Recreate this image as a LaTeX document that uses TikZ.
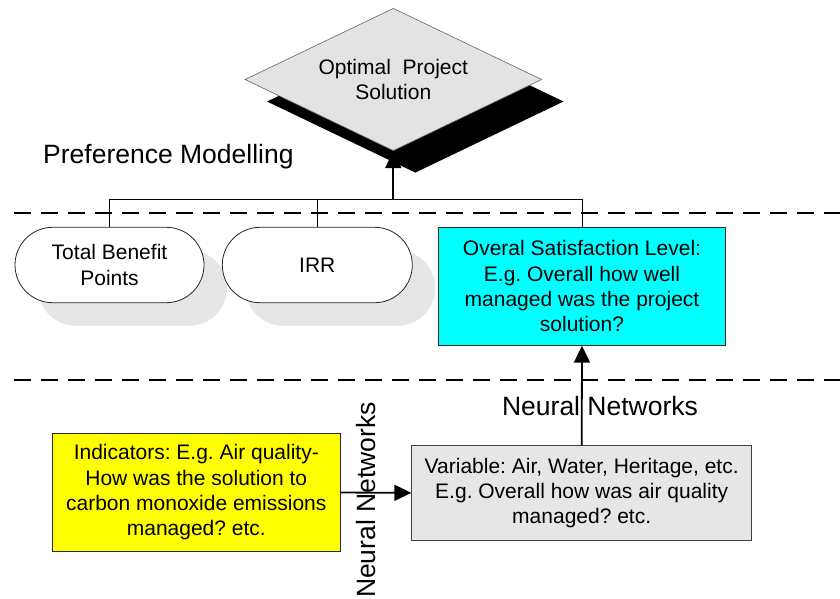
\documentclass[tikz,border=0pt]{standalone}
\usepackage{fontspec}
\setmainfont{Liberation Sans}
\frenchspacing
\usetikzlibrary{shapes.geometric,shapes.misc,shadows,arrows.meta}
\definecolor{lgray}{HTML}{E3E3E3}
\definecolor{sgray}{HTML}{E6E6E6}
\definecolor{vgray}{HTML}{E6E6E6}
\definecolor{cyanbox}{HTML}{00FFFF}
\definecolor{yellowbox}{HTML}{FFFF00}
\tikzset{
  txt/.style={font=\fontsize{21}{25.3}\selectfont, align=center, inner sep=0pt},
  bigtxt/.style={font=\fontsize{26.5}{30}\selectfont, inner sep=0pt},
  pill/.style={txt, rounded rectangle, draw=black!85, line width=0.8pt, fill=white,
    minimum height=75.4pt,
    drop shadow={shadow xshift=23pt, shadow yshift=-23pt, fill=sgray, opacity=1}},
  box/.style={txt, rectangle, draw=black!85, line width=0.8pt},
  arrowline/.style={line width=1.8pt, -{Triangle[length=17pt 0 0,width=16pt 0 0]}},
  thinline/.style={line width=0.9pt},
  sep/.style={line width=1.8pt, dash pattern=on 17pt off 10pt},
}
\begin{document}
\begin{tikzpicture}[x=1pt,y=-1pt]
\useasboundingbox[fill=white] (0,0) rectangle (840,598);

% separators
\draw[sep] (14,212.7) -- (840,212.7);
\draw[sep] (14,380) -- (840,380);

% nodes
\node[pill, minimum width=189pt] (tbp) at (109.5,265) {Total Benefit\\Points};
\node[pill, minimum width=190pt] (irr) at (317.3,265) {IRR};
\node[box, fill=cyanbox, minimum width=287.4pt, minimum height=118pt] (sat) at (582,286.3)
  {Overal Satisfaction Level:\\E.g. Overall how well\\managed was the project\\solution?};
\node[box, fill=yellowbox, minimum width=287.3pt, minimum height=118.4pt] (ind) at (196.3,492.5)
  {Indicators: E.g. Air quality-\\How was the solution to\\carbon monoxide emissions\\managed? etc.};
\node[box, fill=vgray, draw=black!75, minimum width=340pt, minimum height=94.3pt] (var) at (581.7,492.9)
  {Variable: Air, Water, Heritage, etc.\\E.g. Overall how was air quality\\managed? etc.};

% bus
\coordinate (bus) at (393.3,199.3);
\draw[thinline] (tbp.north) -- (tbp.north |- bus) -- (sat.north |- bus) -- (sat.north);
\draw[thinline] (irr.north) -- (irr.north |- bus);
\draw[arrowline] (bus) -- (393.3,151);

% diamond
\node[txt, diamond, aspect=2.08, draw=black!60, line width=0.6pt, fill=lgray, minimum width=296.7pt, minimum height=142.4pt,
  drop shadow={shadow xshift=22pt, shadow yshift=-22pt, fill=black, opacity=1}] (opt) at (393.3,79.5)
  {Optimal\ \ Project\\Solution};

% arrows
\draw[arrowline] (var.north) -- (sat.south);
\draw[arrowline] (ind.east) -- (var.west);

% labels
\node[bigtxt, anchor=base west] (pm) at (43,163.3) {Preference Modelling};
\node[bigtxt, anchor=base] (nn1) at (600,415) {Neural Networks};
\node[bigtxt, rotate=90, anchor=base] (nn2) at (375,500) {Neural Networks};
\end{tikzpicture}
\end{document}
